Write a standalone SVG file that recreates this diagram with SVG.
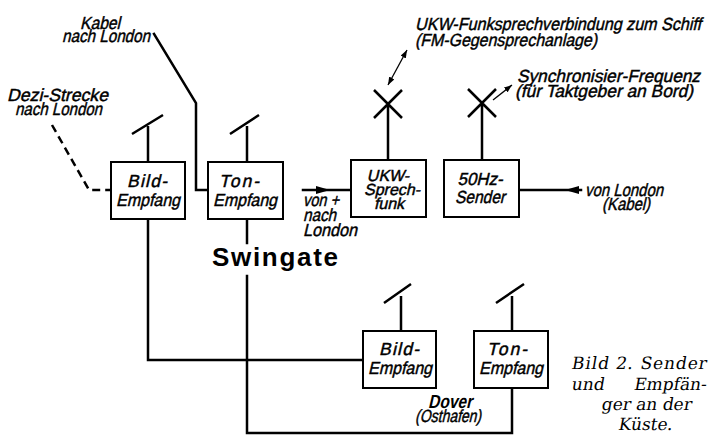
<svg xmlns="http://www.w3.org/2000/svg" width="712" height="436" viewBox="0 0 712 436">
<style>
.bg{fill:#fff}
.box{fill:#fff;stroke:#000;stroke-width:2}
.ln{fill:none;stroke:#000;stroke-width:2.5;stroke-linecap:square}
.ant{fill:none;stroke:#000;stroke-width:2.5}
.thin{fill:none;stroke:#000;stroke-width:1.3}
.dash{fill:none;stroke:#000;stroke-width:2.5;stroke-dasharray:8 5}
.t{font-family:"Liberation Sans",Arial,sans-serif;font-size:17.5px;fill:#000;stroke:#000;stroke-width:0.45}
.b{font-family:"Liberation Sans",Arial,sans-serif;font-size:17.5px;fill:#000;stroke:#000;stroke-width:0.45;text-anchor:middle}
.s{font-size:16px}
.big{font-family:"Liberation Sans",Arial,sans-serif;font-weight:bold;font-size:26px;fill:#000}
.dv{font-family:"Liberation Sans",Arial,sans-serif;font-weight:bold;font-size:19px;fill:#000}
.cap{font-family:"DejaVu Serif","Liberation Serif",serif;font-size:17px;fill:#000}
</style>
<defs>
<marker id="big" markerUnits="userSpaceOnUse" markerWidth="14" markerHeight="8" viewBox="0 0 14 8" refX="13" refY="4" orient="auto">
<path d="M0,0 L14,4 L0,8 z" fill="#000"/>
</marker>
<marker id="tip" markerUnits="userSpaceOnUse" markerWidth="8" markerHeight="6" viewBox="0 0 8 6" refX="8" refY="3" orient="auto-start-reverse">
<path d="M0,0 L8,3 L0,6 z" fill="#000"/>
</marker>
</defs>
<rect class="bg" x="0" y="0" width="712" height="436"/>

<g id="connectors">
<path class="dash" d="M52,125 L89,190 L111,190"/>
<path class="ln" d="M154,34 L196,103 L196,190 L208,190"/>
<path class="ln" d="M148,219 L148,360 L363,360"/>
<path class="ln" d="M247,219 L247,243"/>
<path class="ln" d="M247,276 L247,433 L512,433 L512,388"/>
<path class="ln" d="M303,190 L329,190 L351,190" marker-mid="url(#big)"/>
<path class="ln" d="M581,190 L566,190 L519,190" marker-mid="url(#big)"/>
<path class="thin" d="M388,85 L407,50" marker-start="url(#tip)" marker-end="url(#tip)"/>
<path class="thin" d="M493,100 L512,85" marker-end="url(#tip)"/>
</g>

<g id="label-kabel">
<text class="t" transform="translate(80,29) skewX(-13)" textLength="40" lengthAdjust="spacingAndGlyphs">Kabel</text>
<text class="t" transform="translate(62,42) skewX(-13)" textLength="88" lengthAdjust="spacingAndGlyphs">nach London</text>
</g>
<g id="label-dezi">
<text class="t" transform="translate(7,101) skewX(-13)" textLength="101" lengthAdjust="spacingAndGlyphs">Dezi-Strecke</text>
<text class="t" transform="translate(15,115) skewX(-13)" textLength="87" lengthAdjust="spacingAndGlyphs">nach London</text>
</g>
<g id="label-ukw">
<text class="t" transform="translate(415,30) skewX(-13)" font-size="15.5" textLength="286" lengthAdjust="spacingAndGlyphs">UKW-Funksprechverbindung zum Schiff</text>
<text class="t" transform="translate(415,46) skewX(-13)" textLength="182" lengthAdjust="spacingAndGlyphs">(FM-Gegensprechanlage)</text>
</g>
<g id="label-sync">
<text class="t" transform="translate(517,82) skewX(-13)" textLength="183" lengthAdjust="spacingAndGlyphs">Synchronisier-Frequenz</text>
<text class="t" transform="translate(515,97) skewX(-13)" textLength="178" lengthAdjust="spacingAndGlyphs">(für Taktgeber an Bord)</text>
</g>
<g id="label-vonlondon">
<text class="t" transform="translate(585,196) skewX(-13)" textLength="78" lengthAdjust="spacingAndGlyphs">von London</text>
<text class="t" transform="translate(602,210) skewX(-13)" textLength="48" lengthAdjust="spacingAndGlyphs">(Kabel)</text>
</g>
<g id="label-vonnach">
<text class="t" transform="translate(303,206) skewX(-13)" textLength="36" lengthAdjust="spacingAndGlyphs">von +</text>
<text class="t" transform="translate(303,221) skewX(-13)" textLength="33" lengthAdjust="spacingAndGlyphs">nach</text>
<text class="t" transform="translate(303,236) skewX(-13)" textLength="54" lengthAdjust="spacingAndGlyphs">London</text>
</g>
<g id="label-swingate">
<text class="big" x="212" y="266" textLength="126">Swingate</text>
</g>
<g id="label-dover">
<text class="dv" transform="translate(428,408) skewX(-13)" textLength="44" lengthAdjust="spacingAndGlyphs">Dover</text>
<text class="t" transform="translate(415,422) skewX(-13)" font-size="15" textLength="66" lengthAdjust="spacingAndGlyphs">(Osthafen)</text>
</g>

<g id="bild-top">
<rect class="box" x="111" y="162" width="74" height="57"/>
<path class="ant" d="M148,162 L148,126 M132,134 L163,115"/>
<text class="b" transform="translate(147,187) skewX(-13)" textLength="40">Bild-</text>
<text class="b" transform="translate(148,206) skewX(-13)" textLength="64" lengthAdjust="spacingAndGlyphs">Empfang</text>
</g>
<g id="ton-top">
<rect class="box" x="208" y="162" width="75" height="57"/>
<path class="ant" d="M247,162 L247,126 M230,134 L259,115"/>
<text class="b" transform="translate(239,187) skewX(-13)" textLength="40">Ton-</text>
<text class="b" transform="translate(245,206) skewX(-13)" textLength="64" lengthAdjust="spacingAndGlyphs">Empfang</text>
</g>
<g id="ukw-sprechfunk">
<rect class="box" x="351" y="160" width="75" height="57"/>
<path class="ant" d="M388,160 L388,104 M374,90 L402,118 M374,118 L402,90"/>
<text class="b s" transform="translate(388,181) skewX(-13)">UKW-</text>
<text class="b s" transform="translate(392,195) skewX(-13)">Sprech-</text>
<text class="b s" transform="translate(389,209) skewX(-13)">funk</text>
</g>
<g id="sender-50hz">
<rect class="box" x="444" y="160" width="75" height="57"/>
<path class="ant" d="M482,160 L482,103 M468,89 L496,117 M468,117 L496,89"/>
<text class="b" transform="translate(480,185) skewX(-13)" textLength="45" lengthAdjust="spacingAndGlyphs">50Hz-</text>
<text class="b" transform="translate(480,203) skewX(-13)" textLength="50" lengthAdjust="spacingAndGlyphs">Sender</text>
</g>
<g id="bild-bottom">
<rect class="box" x="363" y="331" width="73" height="57"/>
<path class="ant" d="M401,331 L401,296 M384,303 L411,284"/>
<text class="b" transform="translate(399,355) skewX(-13)" textLength="40">Bild-</text>
<text class="b" transform="translate(400,374) skewX(-13)" textLength="64" lengthAdjust="spacingAndGlyphs">Empfang</text>
</g>
<g id="ton-bottom">
<rect class="box" x="474" y="331" width="74" height="57"/>
<path class="ant" d="M512,331 L512,296 M496,303 L524,284"/>
<text class="b" transform="translate(507,355) skewX(-13)" textLength="40">Ton-</text>
<text class="b" transform="translate(511,374) skewX(-13)" textLength="64" lengthAdjust="spacingAndGlyphs">Empfang</text>
</g>

<g id="caption">
<text class="cap" transform="translate(571,369) skewX(-10)" textLength="135">Bild 2. Sender</text>
<text class="cap" transform="translate(571,390) skewX(-10)"><tspan x="0">und</tspan><tspan x="135" text-anchor="end">Empfän-</tspan></text>
<text class="cap" transform="translate(646,410) skewX(-10)" text-anchor="middle">ger an der</text>
<text class="cap" transform="translate(645,430) skewX(-10)" text-anchor="middle">Küste.</text>
</g>
</svg>
